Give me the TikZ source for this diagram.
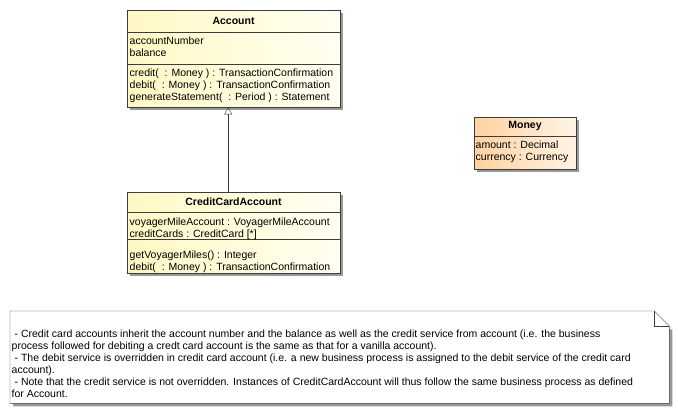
\documentclass[tikz,border=0pt]{standalone}
\usepackage{fontspec}
\setmainfont{Liberation Sans}
\usepackage{xcolor}
\usetikzlibrary{arrows.meta,shadows}

\definecolor{classleft}{HTML}{FFF8C4}
\definecolor{classright}{HTML}{FFFFF2}
\definecolor{typeleft}{HTML}{FFD2A2}
\definecolor{typeright}{HTML}{FFF4E4}
\definecolor{umlline}{HTML}{3C3C3C}

\tikzset{
  umlclass/.style={draw=umlline, anchor=north west, inner sep=0pt,
    left color=classleft, right color=classright,
    drop shadow={shadow xshift=3pt, shadow yshift=-3pt, fill=black!40, opacity=1}},
  umltitle/.style={font=\fontsize{10.5}{12}\selectfont\bfseries, inner sep=0pt},
  umlmembers/.style={anchor=north west, align=left, inner sep=0pt,
    font=\fontsize{10.5}{11.8}\selectfont},
  umlsep/.style={draw=umlline},
}

\begin{document}
\begin{tikzpicture}[x=1pt, y=-1pt]
    \useasboundingbox (0,0) rectangle (678,414);

    % Class Account
    \node[umlclass, minimum width=213pt, minimum height=97pt] (account) at (127,10) {};
    \node[umltitle] (account title) at (233.5,21) {Account};
    \draw[umlsep] (127,32) -- (340,32);
    \draw[umlsep] (127,64) -- (340,64);
    \node[umlmembers] (account attrs) at (129.5,37) {accountNumber\\balance};
    \node[umlmembers] (account ops) at (129.5,69)
        {credit(~~: Money ) : TransactionConfirmation\\
         debit(~~: Money ) : TransactionConfirmation\\
         generateStatement(~~: Period ) : Statement};

    % Class CreditCardAccount
    \node[umlclass, minimum width=213pt, minimum height=81pt] (creditcard) at (127,192) {};
    \node[umltitle] (creditcard title) at (233.5,202) {CreditCardAccount};
    \draw[umlsep] (127,212) -- (340,212);
    \draw[umlsep] (127,239) -- (340,239);
    \node[umlmembers] (creditcard attrs) at (129.5,218)
        {voyagerMileAccount : VoyagerMileAccount\\creditCards : CreditCard [*]};
    \node[umlmembers] (creditcard ops) at (129.5,250.5)
        {getVoyagerMiles() : Integer\\debit(~~: Money ) : TransactionConfirmation};

    % Class Money
    \node[umlclass, left color=typeleft, right color=typeright,
          minimum width=102pt, minimum height=52pt] (money) at (474,117) {};
    \node[umltitle] (money title) at (525,126) {Money};
    \draw[umlsep] (474,136) -- (576,136);
    \node[umlmembers] (money attrs) at (475.5,141)
        {amount : Decimal\\currency : Currency};

    % Generalization
    \draw[umlline, -{Triangle[open, length=7pt, width=8pt]}]
        ([xshift=-5.5pt]creditcard.north) -- ([xshift=-5.5pt]account.south);

    % Note
    \node[minimum width=659pt, minimum height=92pt, anchor=north west, inner sep=0pt] (note) at (10,311) {};
    \fill[black!40] ([shift={(3pt,-3pt)}]note.north west) ++(0,-15pt) |- ([shift={(3pt,-3pt)}]note.south east) -- ++(0,77pt);
    \filldraw[draw=umlline, fill=white] (note.north west) -- ([xshift=-15pt]note.north east)
        -- ([yshift=-15pt]note.north east) |- (note.south west) -- cycle;
    \draw[umlline] ([xshift=-15pt]note.north east) |- ([yshift=-15pt]note.north east);
    \node[umlmembers, font=\fontsize{10.5}{12}\selectfont] (note text) at (11.5,330)
        {\ - Credit card accounts inherit the account number and the balance as well as the credit service from account (i.e. the business\\
         process followed for debiting a credt card account is the same as that for a vanilla account).\\
         \ - The debit service is overridden in credit card account (i.e. a new business process is assigned to the debit service of the credit card\\
         account).\\
         \ - Note that the credit service is not overridden. Instances of CreditCardAccount will thus follow the same business process as defined\\
         for Account.};
\end{tikzpicture}
\end{document}
